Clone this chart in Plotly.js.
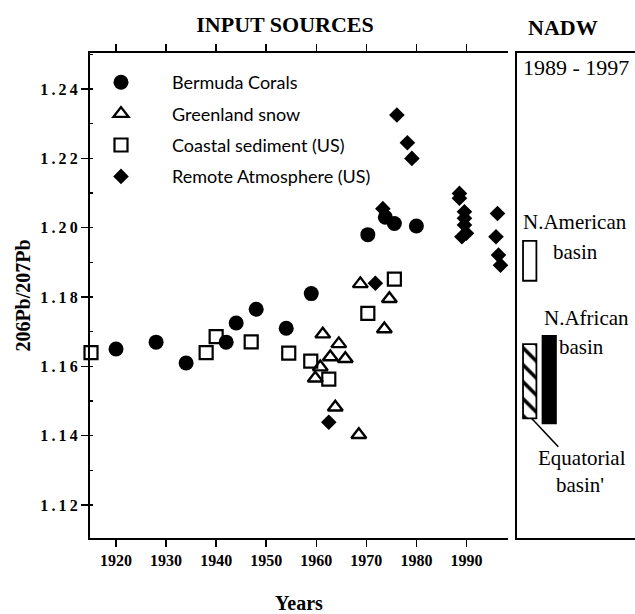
<!DOCTYPE html>
<html>
<head>
<meta charset="utf-8">
<script src="https://cdn.plot.ly/plotly-3.0.1.min.js"></script>
<style>html,body{margin:0;padding:0;background:#fff;}#chart{width:635px;height:614px;}</style>
</head>
<body>
<div id="chart"></div>
<script>
// ---------- data ----------
const seriesNames = ["Bermuda Corals", "Greenland snow", "Coastal sediment (US)", "Remote Atmosphere (US)"];

const coralYears  = [1920, 1928, 1934, 1942, 1944, 1948, 1954, 1959, 1970.3, 1973.8, 1975.6, 1980];
const coralRatio  = [1.165, 1.167, 1.161, 1.167, 1.1725, 1.1765, 1.171, 1.181, 1.198, 1.203, 1.2012, 1.2005];

const snowYears   = [1959.8, 1960.8, 1961.3, 1962.8, 1963.8, 1964.5, 1965.8, 1968.5, 1968.8, 1973.6, 1974.6];
const snowRatio   = [1.1566, 1.1598, 1.1693, 1.1627, 1.1482, 1.1665, 1.1622, 1.1403, 1.1838, 1.1708, 1.1795];

const sedYears    = [1915, 1938, 1940, 1947, 1954.5, 1958.9, 1962.5, 1970.3, 1975.6];
const sedRatio    = [1.164, 1.164, 1.1686, 1.1671, 1.1638, 1.1615, 1.1563, 1.1753, 1.1852];

const atmYears    = [1962.5, 1971.8, 1973.3, 1976.1, 1978.2, 1979.1, 1988.6, 1988.6, 1989.6, 1989.6, 1989.6, 1989.1, 1990, 1996.2, 1995.9, 1996.4, 1996.8];
const atmRatio    = [1.1439, 1.184, 1.2055, 1.2325, 1.2245, 1.220, 1.2099, 1.2085, 1.2046, 1.2027, 1.2008, 1.1974, 1.1984, 1.2041, 1.1974, 1.1921, 1.1892];

const basinNames  = ["N.American basin", "Equatorial basin", "N.African basin"];
const basinLow    = [1.1847, 1.1450, 1.1436];
const basinHigh   = [1.1962, 1.1664, 1.1688];

const yearTicks   = [1920, 1930, 1940, 1950, 1960, 1970, 1980, 1990];
const ratioTicks  = [1.12, 1.14, 1.16, 1.18, 1.20, 1.22, 1.24];

// ---------- presentation ----------
const W = 635, H = 614;
const px = x => x / W, py = y => 1 - y / H;
const serif = "Liberation Serif, Times New Roman, serif";
const sans = "Lato, Liberation Sans, sans-serif";
const basinSlot = [1.1, 1.1, 2.75];   // horizontal slot of each basin bar in the NADW panel
const basinFill = [
  {color: "#fff", pattern: {shape: ""}},
  {color: "#fff", pattern: {shape: "\\", fgcolor: "#000", fgopacity: 1, bgcolor: "#fff", size: 12, solidity: 0.3, fillmode: "overlay"}},
  {color: "#000", pattern: {shape: ""}}
];
const thin = "\u2009";
const yearText = yearTicks.map(v => "<b>" + v + "</b>");
const ratioText = ratioTicks.map(v => "<b>" + v.toFixed(2).split("").join(thin) + "</b>");

const common = {type: "scatter", mode: "markers", cliponaxis: false, xaxis: "x", yaxis: "y"};
const traces = [
  Object.assign({}, common, {name: seriesNames[0], legendgroup: "a", x: coralYears, y: coralRatio,
    marker: {symbol: "circle", size: 15, color: "#000"}}),
  Object.assign({}, common, {name: seriesNames[1], legendgroup: "b", x: snowYears, y: snowRatio,
    marker: {symbol: "triangle-up-open", size: 13, color: "#000", line: {width: 2.4, color: "#000"}}}),
  Object.assign({}, common, {name: seriesNames[2], legendgroup: "c", x: sedYears, y: sedRatio,
    marker: {symbol: "square-open", size: 13, color: "#000", line: {width: 2.2, color: "#000"}}}),
  Object.assign({}, common, {name: seriesNames[3], legendgroup: "d", x: atmYears, y: atmRatio,
    marker: {symbol: "diamond", size: 12, color: "#000"}})
];
basinNames.forEach((nm, i) => {
  traces.push({type: "bar", xaxis: "x3", yaxis: "y3", showlegend: false, name: nm,
    x: [basinSlot[i]], base: [basinLow[i]], y: [basinHigh[i] - basinLow[i]], width: 1.13,
    hoverinfo: "name", textposition: "none",
    marker: Object.assign({line: {color: "#000", width: 1.8}}, basinFill[i])});
});

const yDomain = [py(538), py(53)];
const yRange = [1.1105, 1.2504];
const tickFont = {family: serif, size: 16, color: "#000", weight: "bold"};

const layout = {
  width: W, height: H,
  margin: {l: 0, r: 0, t: 0, b: 0},
  paper_bgcolor: "#fff", plot_bgcolor: "#fff",
  showlegend: true, barmode: "overlay",
  title: {text: "INPUT SOURCES", x: px(285), y: py(24), xanchor: "center", yanchor: "middle",
    font: {family: serif, size: 22, color: "#000", weight: "bold"}},
  legend: {x: px(70), y: py(64), xanchor: "left", yanchor: "top", itemwidth: 92,
    traceorder: "grouped", tracegroupgap: 5, bgcolor: "rgba(0,0,0,0)", borderwidth: 0,
    font: {family: sans, size: 18, color: "#000"}},
  xaxis: {domain: [px(90), px(508)], range: [1914.8, 1998.3], anchor: "y",
    showline: true, linewidth: 2, linecolor: "#000", mirror: "ticks",
    ticks: "outside", ticklen: 7, tickwidth: 1.5, tickcolor: "#000",
    tickmode: "array", tickvals: yearTicks, ticktext: yearText, tickfont: tickFont,
    showgrid: false, zeroline: false,
    title: {text: "<b>Years</b>", standoff: 28, font: {family: serif, size: 20, color: "#000", weight: "bold"}}},
  xaxis2: {overlaying: "x", matches: "x", anchor: "y", showline: false, mirror: "ticks",
    ticks: "inside", ticklen: 7, tickwidth: 1.5, tickcolor: "#000",
    tickmode: "array", tickvals: yearTicks, showticklabels: false, showgrid: false, zeroline: false},
  yaxis: {domain: yDomain, range: yRange, anchor: "x", side: "left",
    showline: true, linewidth: 2, linecolor: "#000",
    ticks: "outside", ticklen: 7, tickwidth: 1.5, tickcolor: "#000",
    tickmode: "array", tickvals: ratioTicks, ticktext: ratioText, tickfont: tickFont,
    minor: {ticks: "inside", ticklen: 3, tickwidth: 1.2, tickcolor: "#000", dtick: 0.01, tick0: 1.11},
    showgrid: false, zeroline: false,
    title: {text: "<b>206Pb/207Pb</b>", standoff: 4, font: {family: serif, size: 20, color: "#000", weight: "bold"}}},
  yaxis2: {overlaying: "y", matches: "y", anchor: "x", side: "right",
    showline: true, linewidth: 2, linecolor: "#000",
    ticks: "outside", ticklen: 9, tickwidth: 1.5, tickcolor: "#000",
    tickmode: "array", tickvals: ratioTicks, showticklabels: false,
    minor: {ticks: "inside", ticklen: 3, tickwidth: 1.2, tickcolor: "#000", dtick: 0.01, tick0: 1.11},
    showgrid: false, zeroline: false},
  xaxis3: {domain: [px(516.7), 1], range: [0, 10], anchor: "y3",
    showline: true, linewidth: 2, linecolor: "#000", mirror: true,
    ticks: "", showticklabels: false, showgrid: false, zeroline: false},
  yaxis3: {domain: yDomain, range: yRange, anchor: "x3",
    showline: true, linewidth: 2, linecolor: "#000", mirror: false,
    ticks: "", showticklabels: false, showgrid: false, zeroline: false},
  shapes: [
    {type: "line", xref: "paper", yref: "paper", x0: px(531.5), y0: py(418.3), x1: px(558.3), y1: py(446.7),
      line: {color: "#000", width: 1.6}}
  ],
  annotations: [
    {text: "NADW", x: px(563), y: py(27), font: {family: serif, size: 22, color: "#000", weight: "bold"}},
    {text: "1989 - 1997", x: px(576), y: py(67), font: {family: serif, size: 22, color: "#000"}},
    {text: "N.American", x: px(575), y: py(222), font: {family: serif, size: 21, color: "#000"}},
    {text: "basin", x: px(575), y: py(252), font: {family: serif, size: 21, color: "#000"}},
    {text: "N.African", x: px(586.7), y: py(318.3), font: {family: serif, size: 21, color: "#000"}},
    {text: "basin", x: px(581.7), y: py(346.7), font: {family: serif, size: 21, color: "#000"}},
    {text: "Equatorial", x: px(581.7), y: py(458.3), font: {family: serif, size: 21, color: "#000"}},
    {text: "basin'", x: px(580), y: py(485), font: {family: serif, size: 21, color: "#000"}}
  ].map(a => Object.assign({xref: "paper", yref: "paper", xanchor: "center", yanchor: "middle", showarrow: false}, a))
};

Plotly.newPlot("chart", traces, layout, {displayModeBar: false, staticPlot: true});
</script>
</body>
</html>
